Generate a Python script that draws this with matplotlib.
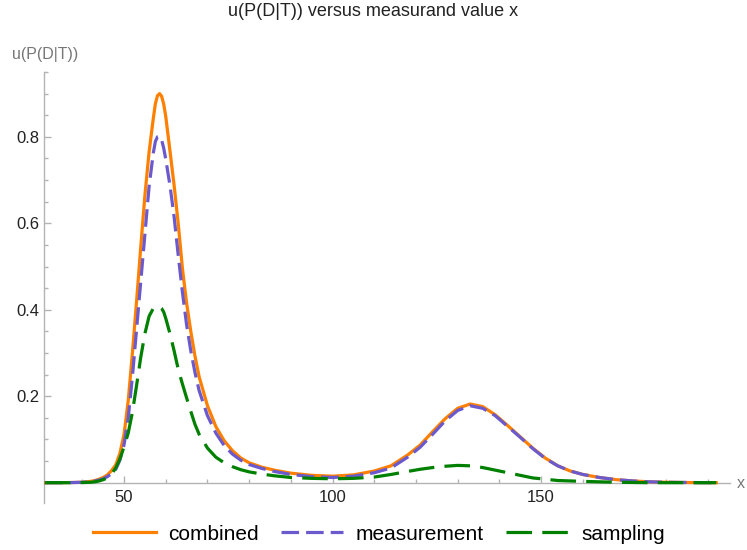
import matplotlib
matplotlib.use("Agg")
import matplotlib.pyplot as plt
from matplotlib.ticker import MultipleLocator

plt.rcParams['font.family'] = ['Liberation Sans', 'DejaVu Sans']

# measurand value x
x_vals = [31, 35, 38, 40, 42, 43, 44, 45, 46, 47, 48, 49, 50, 51, 52, 53, 54, 55, 56, 57,
          57.5, 58, 58.5, 59, 59.5, 60, 61, 62, 63, 64, 65, 66, 67, 68, 70, 72, 74, 76, 78, 80,
          83, 86, 90, 95, 100, 105, 110, 114, 118, 121, 124, 127, 130, 133, 136, 139, 142,
          145, 148, 151, 154, 157, 160, 164, 168, 172, 176, 180, 186, 192]

combined = [0, 0, 0.0005, 0.001, 0.003, 0.005, 0.008, 0.012, 0.018, 0.028, 0.041, 0.068, 0.112,
            0.190, 0.300, 0.420, 0.545, 0.665, 0.765, 0.842,
            0.876, 0.895, 0.900, 0.894, 0.876, 0.847, 0.768, 0.688, 0.598, 0.495, 0.415, 0.350,
            0.293, 0.245, 0.178, 0.130, 0.097, 0.074, 0.057, 0.046,
            0.036, 0.029, 0.022, 0.017, 0.015, 0.018, 0.027, 0.039, 0.064, 0.087, 0.118, 0.148,
            0.172, 0.182, 0.176, 0.157, 0.132,
            0.106, 0.080, 0.057, 0.039, 0.027, 0.019, 0.012, 0.007, 0.004, 0.002, 0.001, 0.0003, 0]

measurement = [0, 0, 0.0004, 0.001, 0.002, 0.004, 0.006, 0.009, 0.014, 0.021, 0.031, 0.052, 0.088,
               0.150, 0.245, 0.355, 0.465, 0.575, 0.685, 0.762,
               0.789, 0.800, 0.801, 0.793, 0.774, 0.748, 0.688, 0.615, 0.525, 0.440, 0.365, 0.305,
               0.255, 0.213, 0.155, 0.115, 0.086, 0.066, 0.052, 0.042,
               0.033, 0.026, 0.019, 0.014, 0.012, 0.015, 0.023, 0.034, 0.059, 0.082, 0.112, 0.143,
               0.167, 0.178, 0.172, 0.155, 0.130,
               0.105, 0.079, 0.056, 0.039, 0.027, 0.019, 0.012, 0.007, 0.004, 0.002, 0.001, 0.0003, 0]

sampling = [0, 0, 0, 0.0003, 0.001, 0.002, 0.004, 0.007, 0.011, 0.020, 0.034, 0.055, 0.083,
            0.115, 0.163, 0.225, 0.290, 0.345, 0.385, 0.403,
            0.407, 0.408, 0.407, 0.403, 0.395, 0.380, 0.345, 0.305, 0.262, 0.228, 0.196, 0.165,
            0.135, 0.112, 0.080, 0.059, 0.046, 0.037, 0.030, 0.025,
            0.020, 0.016, 0.012, 0.010, 0.009, 0.010, 0.013, 0.019, 0.026, 0.031, 0.035, 0.038,
            0.040, 0.039, 0.035, 0.029, 0.023,
            0.017, 0.011, 0.008, 0.005, 0.004, 0.003, 0.002, 0.001, 0.0005, 0, 0, 0, 0]

W, H = 747, 550
fig = plt.figure(figsize=(W / 100, H / 100), dpi=100)
ax = fig.add_axes([44 / W, 1 - 503 / H, (730 - 44) / W, (503 - 72) / H])

axis_col = '#b3b3b3'
ax.plot(x_vals, combined, color='#ff8000', lw=2.3, label='combined', zorder=3)
ax.plot(x_vals, measurement, color='#6a5acd', lw=2.3, dashes=(5.5, 2.2),
        label='measurement', zorder=4)
ax.plot(x_vals, sampling, color='#008000', lw=2.3, dashes=(8, 3.2),
        label='sampling', zorder=5)

ax.set_xlim(30.8, 195.3)
ax.set_ylim(-0.047, 0.95)

for s in ['top', 'right']:
    ax.spines[s].set_visible(False)
ax.spines['bottom'].set_position(('data', 0))
for s in ['bottom', 'left']:
    ax.spines[s].set_color(axis_col)
    ax.spines[s].set_linewidth(1)

ax.xaxis.set_major_locator(MultipleLocator(50))
ax.xaxis.set_minor_locator(MultipleLocator(10))
ax.set_yticks([0.2, 0.4, 0.6, 0.8])
ax.yaxis.set_minor_locator(MultipleLocator(0.05))
ax.tick_params(which='both', direction='in', color=axis_col, width=1,
               labelsize=12, labelcolor='#222222')
ax.tick_params(which='major', length=5)
ax.tick_params(which='minor', length=3)
ax.tick_params(axis='x', pad=5)
ax.tick_params(axis='y', pad=3)

fig.text(373 / W, 1 - 12 / H, 'u(P(D|T)) versus measurand value x', ha='center', va='center',
         fontsize=13, color='#222222')
fig.text(12 / W, 1 - 55 / H, 'u(P(D|T))', ha='left', va='center', fontsize=11.5, color='#777777')
fig.text(737 / W, 1 - 483 / H, 'x', ha='left', va='center', fontsize=11.5, color='#777777')

ax.legend(loc='center', bbox_to_anchor=(379 / W, 1 - 534 / H), bbox_transform=fig.transFigure,
          ncol=3, frameon=False, fontsize=15, handlelength=3.0, handletextpad=0.6,
          columnspacing=1.05)

fig.savefig('out.png', dpi=100)
